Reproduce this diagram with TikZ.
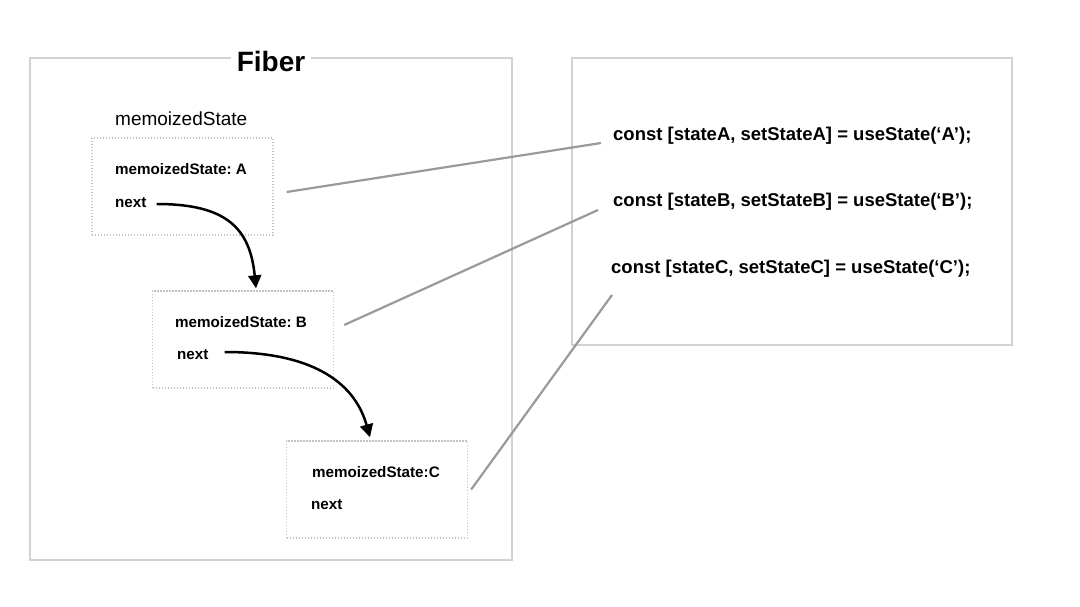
\documentclass[tikz,border=0pt]{standalone}
\usepackage{fontspec}
\setmainfont{Liberation Sans}
\usetikzlibrary{arrows.meta,calc}
\definecolor{framegray}{HTML}{D2D2D2}
\definecolor{dotgray}{HTML}{C4C4C4}
\definecolor{linkgray}{HTML}{9A9A9A}
\tikzset{
  frame/.style={draw=framegray,line width=2pt,minimum width=#1,inner sep=0pt},
  dotbox/.style={draw=dotgray,line width=1.4pt,dash pattern=on 1.2pt off 1.8pt,minimum width=181pt,minimum height=97pt,inner sep=0pt},
  field/.style={anchor=west,inner sep=0pt,font=\fontsize{15.2}{17}\selectfont\bfseries},
  code/.style={anchor=west,inner sep=0pt,font=\fontsize{18.5}{20}\selectfont\bfseries},
  link/.style={draw=linkgray,line width=2.2pt},
  nextarrow/.style={draw=black,line width=2.5pt,-{Triangle[length=13pt,width=13pt]}}
}
\begin{document}
\frenchspacing
\begin{tikzpicture}[x=1pt,y=-1pt]
\useasboundingbox[fill=white] (0,0) rectangle (1080,607);
% frames
\node[frame=482pt,minimum height=502pt] (fiber) at (271,309) {};
\node[fill=white,inner xsep=6pt,inner ysep=2pt,font=\fontsize{28}{30}\selectfont\bfseries] (fibertitle) at (271,61) {Fiber};
\node[frame=440pt,minimum height=287pt] (hooks) at (792,201.5) {};
% label
\node[anchor=west,inner sep=0pt,font=\fontsize{19}{21}\selectfont] (msLabel) at (115,119) {memoizedState};
% boxes
\node[dotbox] (boxA) at (182.5,186.5) {};
\node[dotbox] (boxB) at (243,339.5) {};
\node[dotbox] (boxC) at (377,489.5) {};
\node[field] (msA) at (115,169) {memoizedState: A};
\node[field] (nextA) at (115,203) {next};
\node[field] (msB) at (175,322) {memoizedState: B};
\node[field] (nextB) at (177,355) {next};
\node[field] (msC) at (312,472) {memoizedState:C};
\node[field] (nextC) at (311,505) {next};
% code
\node[code] (codeA) at (613,136) {const [stateA, setStateA] = useState(‘A’);};
\node[code] (codeB) at (613,202) {const [stateB, setStateB] = useState(‘B’);};
\node[code] (codeC) at (611,269) {const [stateC, setStateC] = useState(‘C’);};
% links
\draw[link] ($(boxA.east)+(13,5.5)$) -- ($(codeA.west)+(-12,7)$);
\draw[link] ($(boxB.east)+(10,-14.5)$) -- ($(codeB.west)+(-15,8)$);
\draw[link] ($(boxC.east)+(3,0)$) -- ($(codeC.west)+(1,26)$);
% next arrows
\draw[nextarrow] ($(nextA.east)+(10,1)$) .. controls +(70,0) and +(-6,-60) .. ($(boxB.north)+(13,-2)$);
\draw[nextarrow] ($(nextB.east)+(16,-3)$) .. controls +(95,0) and +(-14,-50) .. ($(boxC.north)+(-7,-3)$);
\end{tikzpicture}
\end{document}
